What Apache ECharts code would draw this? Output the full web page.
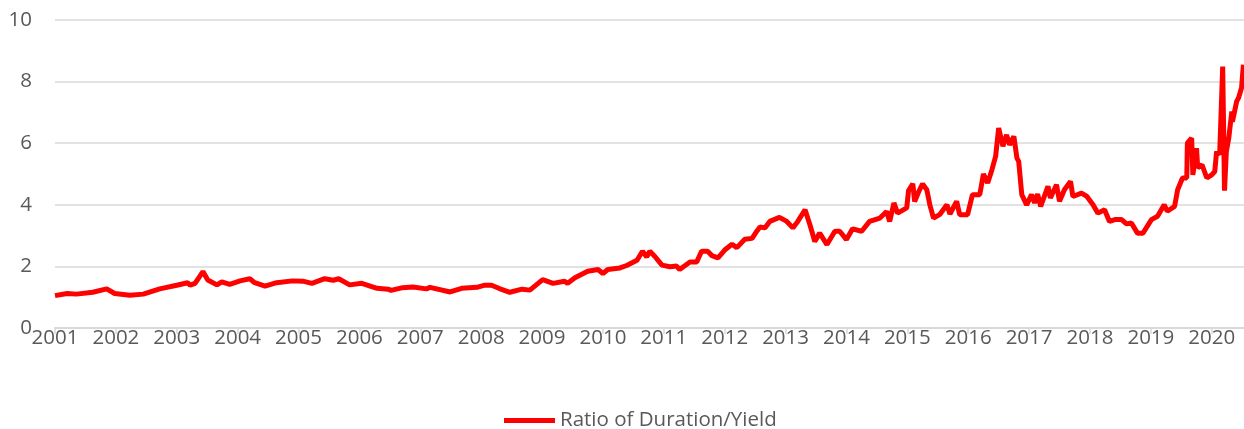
<!DOCTYPE html>
<html>
<head>
<meta charset="utf-8">
<script src="https://cdn.jsdelivr.net/npm/echarts@6/dist/echarts.min.js"></script>
<style>
  html, body { margin: 0; padding: 0; background: #fff; }
  #chart { width: 1244px; height: 429px; }
</style>
</head>
<body>
<div id="chart"></div>
<script>
// values (decimal year, ratio)
const years = [
  2001.00, 2001.20, 2001.35, 2001.62, 2001.85, 2001.98, 2002.23, 2002.45, 2002.72, 2003.00,
  2003.18, 2003.22, 2003.30, 2003.43, 2003.51, 2003.66, 2003.74, 2003.87, 2004.04, 2004.20,
  2004.28, 2004.45, 2004.64, 2004.90, 2005.07, 2005.22, 2005.43, 2005.57, 2005.66, 2005.84,
  2006.04, 2006.29, 2006.47, 2006.52, 2006.71, 2006.88, 2007.10, 2007.16, 2007.49, 2007.68,
  2007.93, 2008.06, 2008.17, 2008.30, 2008.47, 2008.67, 2008.80, 2009.01, 2009.18, 2009.37,
  2009.42, 2009.54, 2009.75, 2009.92, 2010.00, 2010.08, 2010.28, 2010.39, 2010.56, 2010.65,
  2010.72, 2010.77, 2010.85, 2010.97, 2011.10, 2011.21, 2011.26, 2011.43, 2011.54, 2011.62,
  2011.72, 2011.79, 2011.89, 2012.00, 2012.12, 2012.20, 2012.33, 2012.45, 2012.53, 2012.58,
  2012.66, 2012.74, 2012.90, 2013.02, 2013.12, 2013.20, 2013.32, 2013.40, 2013.48, 2013.56,
  2013.68, 2013.81, 2013.89, 2014.00, 2014.10, 2014.25, 2014.38, 2014.55, 2014.66, 2014.71,
  2014.78, 2014.84, 2014.99, 2015.02, 2015.09, 2015.12, 2015.19, 2015.25, 2015.32, 2015.37,
  2015.43, 2015.53, 2015.65, 2015.70, 2015.81, 2015.86, 2015.99, 2016.07, 2016.19, 2016.25,
  2016.32, 2016.39, 2016.45, 2016.50, 2016.57, 2016.63, 2016.68, 2016.75, 2016.80, 2016.83,
  2016.88, 2016.96, 2017.04, 2017.09, 2017.14, 2017.19, 2017.31, 2017.35, 2017.45, 2017.50,
  2017.58, 2017.68, 2017.72, 2017.86, 2017.95, 2018.05, 2018.13, 2018.24, 2018.32, 2018.41,
  2018.52, 2018.60, 2018.68, 2018.78, 2018.87, 2019.01, 2019.11, 2019.22, 2019.27, 2019.39,
  2019.44, 2019.52, 2019.59, 2019.60, 2019.67, 2019.69, 2019.75, 2019.77, 2019.84, 2019.92,
  2020.00, 2020.05, 2020.08, 2020.13, 2020.18, 2020.21, 2020.24, 2020.28, 2020.33, 2020.34,
  2020.41, 2020.44, 2020.49, 2020.52
];
const ratio = [
  1.05, 1.12, 1.10, 1.16, 1.27, 1.12, 1.06, 1.10, 1.27, 1.39,
  1.47, 1.39, 1.45, 1.83, 1.56, 1.40, 1.50, 1.42, 1.53, 1.60,
  1.47, 1.36, 1.47, 1.53, 1.52, 1.45, 1.60, 1.55, 1.60, 1.40,
  1.45, 1.29, 1.26, 1.22, 1.31, 1.33, 1.27, 1.32, 1.17, 1.29,
  1.32, 1.39, 1.39, 1.28, 1.16, 1.26, 1.23, 1.57, 1.45, 1.52,
  1.45, 1.63, 1.84, 1.90, 1.77, 1.90, 1.95, 2.03, 2.20, 2.49,
  2.31, 2.49, 2.33, 2.04, 1.99, 2.01, 1.90, 2.14, 2.14, 2.49,
  2.49, 2.35, 2.28, 2.53, 2.72, 2.61, 2.88, 2.91, 3.15, 3.28,
  3.25, 3.46, 3.59, 3.46, 3.25, 3.46, 3.84, 3.35, 2.81, 3.08,
  2.71, 3.14, 3.14, 2.87, 3.22, 3.14, 3.46, 3.57, 3.78, 3.46,
  4.06, 3.73, 3.90, 4.46, 4.68, 4.11, 4.44, 4.68, 4.49, 4.00,
  3.57, 3.68, 4.00, 3.70, 4.11, 3.68, 3.68, 4.33, 4.33, 5.00,
  4.71, 5.14, 5.57, 6.49, 5.90, 6.27, 5.95, 6.22, 5.52, 5.40,
  4.33, 4.00, 4.33, 4.06, 4.35, 3.95, 4.60, 4.22, 4.65, 4.11,
  4.49, 4.76, 4.27, 4.38, 4.27, 4.00, 3.73, 3.84, 3.46, 3.52,
  3.52, 3.38, 3.41, 3.08, 3.08, 3.52, 3.63, 4.00, 3.79, 3.95,
  4.49, 4.87, 4.87, 6.00, 6.17, 4.97, 5.84, 5.20, 5.30, 4.87,
  4.97, 5.08, 5.73, 5.63, 8.49, 4.46, 5.73, 6.17, 7.03, 6.70,
  7.36, 7.47, 7.80, 8.55
];
const seriesName = 'Ratio of Duration/Yield';

const chart = echarts.init(document.getElementById('chart'), null, { renderer: 'canvas' });
const font = "'Open Sans', sans-serif";

chart.setOption({
  animation: false,
  grid: { left: 55, right: 0, top: 20, bottom: 101 },
  legend: {
    data: [seriesName],
    left: 499,
    top: 405,
    icon: 'rect',
    itemWidth: 51,
    itemHeight: 5,
    itemGap: 4,
    textStyle: { fontFamily: font, fontSize: 20.5, color: '#595959', padding: [0, 0, 0, 0] }
  },
  xAxis: {
    type: 'value',
    min: 2001,
    max: 2020.53,
    interval: 1,
    axisLine: { lineStyle: { color: '#d9d9d9', width: 2 } },
    axisTick: { show: true, length: 6, lineStyle: { color: '#d9d9d9', width: 1.5 } },
    splitLine: { show: false },
    axisLabel: {
      fontFamily: font, fontSize: 20.5, color: '#595959', margin: 0,
      showMaxLabel: false,
      formatter: v => String(Math.round(v))
    }
  },
  yAxis: {
    type: 'value',
    min: 0,
    max: 10,
    interval: 2,
    axisLine: { show: false },
    axisTick: { show: false },
    splitLine: { lineStyle: { color: '#d9d9d9', width: 1.5 } },
    axisLabel: { fontFamily: font, fontSize: 20.5, color: '#595959', margin: 23 }
  },
  series: [{
    name: seriesName,
    type: 'line',
    data: years.map((y, i) => [y, ratio[i]]),
    showSymbol: false,
    symbol: 'none',
    lineStyle: { color: '#ff0000', width: 5 },
    itemStyle: { color: '#ff0000' }
  }]
});
</script>
</body>
</html>
